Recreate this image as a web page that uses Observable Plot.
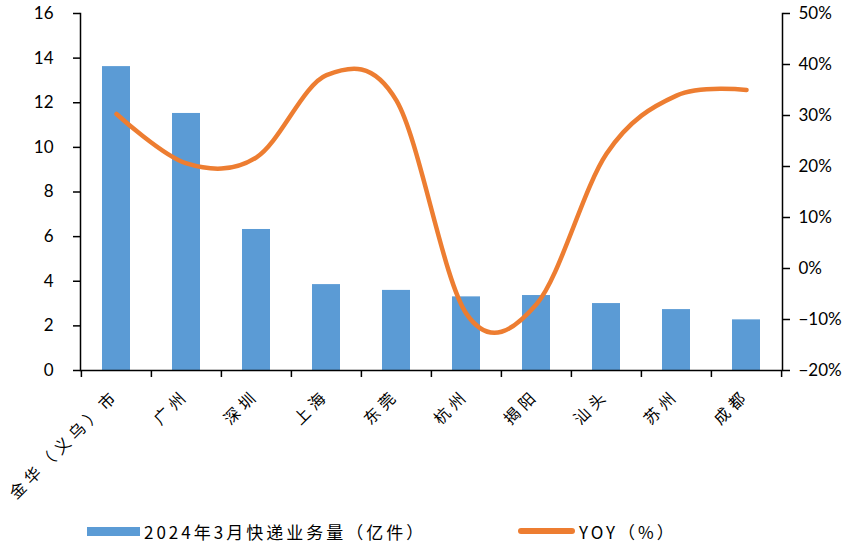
<!DOCTYPE html>
<html><head><meta charset="utf-8">
<script src="https://cdn.jsdelivr.net/npm/d3@7"></script>
<script src="https://cdn.jsdelivr.net/npm/@observablehq/plot@0.6"></script>
<style>
body{margin:0;background:#fff;}
#chart svg g[aria-label="x-axis tick label"] text{letter-spacing:5px;}
#legend{position:relative;width:847px;height:39px;font-family:"Noto Sans CJK SC",sans-serif;font-size:17px;color:#000;}
#legend .item{position:absolute;top:10px;display:flex;align-items:center;height:22px;white-space:nowrap;letter-spacing:3px;}
#legend .sw1{width:53px;height:9px;background:#5B9BD5;margin-right:4px;}
#legend .sw2{width:57px;height:6px;border-radius:3px;background:#ED7D31;margin-right:4px;}
</style></head>
<body>
<div id="chart"></div>
<div id="legend"></div>
<script>
const cities = ["金华（义乌）市","广州","深圳","上海","东莞","杭州","揭阳","汕头","苏州","成都"];
const volume = [13.62, 11.52, 6.32, 3.85, 3.59, 3.30, 3.36, 3.00, 2.73, 2.27];
const yoy = [30.3, 20.6, 21.8, 37.9, 32.9, -8.9, -7.0, 22.5, 33.9, 35.0];
const leftTicks = [0, 2, 4, 6, 8, 10, 12, 14, 16];
const rightTicks = [-20, -10, 0, 10, 20, 30, 40, 50];
const seriesNames = ["2024年3月快递业务量（亿件）", "YOY（%）"];

const toLeft = v => (v + 20) / 70 * 16;
const fromLeft = v => v * 70 / 16 - 20;
const data = cities.map((c, i) => ({city: c, volume: volume[i], yoyL: toLeft(yoy[i])}));
const last = cities[cities.length - 1];

const chart = Plot.plot({
  width: 847, height: 510,
  marginTop: 13, marginBottom: 140, marginLeft: 80, marginRight: 65,
  style: {fontFamily: "Lato, sans-serif", fontSize: "16px", color: "#000", background: "#fff", overflow: "visible"},
  x: {domain: cities, paddingInner: 0.6, paddingOuter: 0.3, label: null},
  y: {domain: [0, 16], label: null},
  marks: [
    Plot.barY(data, {x: "city", y: "volume", fill: "#5B9BD5"}),
    Plot.line(data, {x: "city", y: "yoyL", stroke: "#ED7D31", strokeWidth: 4.5, curve: "cardinal", tension: 0, strokeLinecap: "round", strokeLinejoin: "round"}),
    Plot.ruleX(cities, {x: d => d, y1: 0, y2: 0, insetBottom: -7, dx: -35.1, stroke: "#000", strokeWidth: 1.5}),
    Plot.ruleX([last], {x: d => d, y1: 0, y2: 0, insetBottom: -7, dx: 35.1, stroke: "#000", strokeWidth: 1.5}),
    Plot.ruleY([0], {stroke: "#000", strokeWidth: 1.5}),
    Plot.frame({anchor: "left", stroke: "#000", strokeWidth: 1.5}),
    Plot.frame({anchor: "right", stroke: "#000", strokeWidth: 1.5}),
    Plot.axisY(leftTicks, {anchor: "left", tickSize: 7, tickPadding: 20, strokeWidth: 1.5, label: null, fontSize: 17}),
    Plot.axisY(rightTicks.map(toLeft), {anchor: "right", tickSize: 7, tickPadding: 9, strokeWidth: 1.5, label: null, fontSize: 17,
      tickFormat: v => { const p = Math.round(fromLeft(v)); return (p < 0 ? "\u2212" + (-p) : String(p)) + "%"; }}),
    Plot.axisX({anchor: "bottom", tickSize: 0, tickPadding: 22, tickRotate: -45, label: null, fontFamily: "Noto Sans CJK SC", fontSize: 16})
  ]
});
document.getElementById("chart").append(chart);

const legend = document.getElementById("legend");
legend.innerHTML =
  `<div class="item" style="left:87px"><span class="sw1"></span><span>${seriesNames[0]}</span></div>` +
  `<div class="item" style="left:518px"><span class="sw2"></span><span>${seriesNames[1]}</span></div>`;
</script>
</body></html>
